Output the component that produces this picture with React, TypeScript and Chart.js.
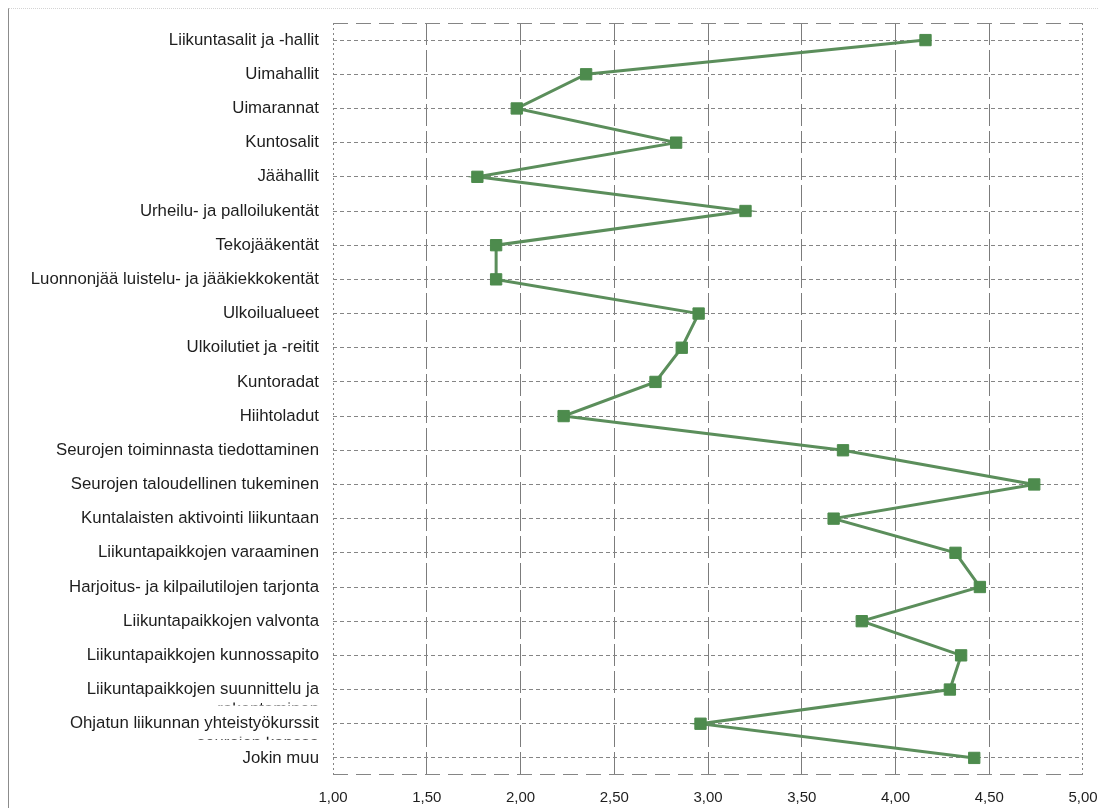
import React, { useEffect, useRef } from "react";
import { Chart, registerables } from "chart.js";

Chart.register(...registerables);

const categories: (string | string[])[] = [
  "Liikuntasalit ja -hallit",
  "Uimahallit",
  "Uimarannat",
  "Kuntosalit",
  "Jäähallit",
  "Urheilu- ja palloilukentät",
  "Tekojääkentät",
  "Luonnonjää luistelu- ja jääkiekkokentät",
  "Ulkoilualueet",
  "Ulkoilutiet ja -reitit",
  "Kuntoradat",
  "Hiihtoladut",
  "Seurojen toiminnasta tiedottaminen",
  "Seurojen taloudellinen tukeminen",
  "Kuntalaisten aktivointi liikuntaan",
  "Liikuntapaikkojen varaaminen",
  "Harjoitus- ja kilpailutilojen tarjonta",
  "Liikuntapaikkojen valvonta",
  "Liikuntapaikkojen kunnossapito",
  ["Liikuntapaikkojen suunnittelu ja", "rakentaminen"],
  ["Ohjatun liikunnan yhteistyökurssit", "seurojen kanssa"],
  "Jokin muu",
];

const values: number[] = [
  4.16, 2.35, 1.98, 2.83, 1.77, 3.2, 1.87, 1.87, 2.95, 2.86, 2.72, 2.23,
  3.72, 4.74, 3.67, 4.32, 4.45, 3.82, 4.35, 4.29, 2.96, 4.42,
];

const xTickValues: number[] = [1, 1.5, 2, 2.5, 3, 3.5, 4, 4.5, 5];
const xTickLabels: string[] = ["1,00", "1,50", "2,00", "2,50", "3,00", "3,50", "4,00", "4,50", "5,00"];

const FONT = '"Liberation Sans", Arial, sans-serif';
const LABEL_SIZE = 16.8;

export default function App() {
  const ref = useRef<HTMLCanvasElement | null>(null);

  useEffect(() => {
    if (!ref.current) return;
    const framePlugin = {
      id: "frame",
      afterDraw(chart: any) {
        const { ctx, chartArea, scales } = chart;
        const { left, right, top, bottom } = chartArea;
        ctx.save();
        ctx.strokeStyle = "#858585";
        ctx.lineWidth = 1;
        ctx.setLineDash([15, 8]);
        ctx.beginPath();
        ctx.moveTo(left, top + 0.5);
        ctx.lineTo(right, top + 0.5);
        ctx.moveTo(left, bottom - 0.5);
        ctx.lineTo(right, bottom - 0.5);
        ctx.stroke();
        ctx.setLineDash([2, 3]);
        ctx.beginPath();
        ctx.moveTo(right - 0.5, top);
        ctx.lineTo(right - 0.5, bottom);
        ctx.moveTo(left + 0.5, top);
        ctx.lineTo(left + 0.5, bottom);
        ctx.stroke();
        ctx.restore();
        categories.forEach((c, i) => {
          if (Array.isArray(c) && c.length > 1) {
            const yy = scales.y.getPixelForTick(i);
            ctx.save();
            ctx.beginPath();
            ctx.rect(0, yy + 13, left, 3);
            ctx.clip();
            ctx.font = LABEL_SIZE + "px " + FONT;
            ctx.fillStyle = "#1e1e1e";
            ctx.textAlign = "right";
            ctx.textBaseline = "middle";
            ctx.fillText(c[1], left - 14, yy + 20);
            ctx.restore();
          }
        });
      },
    };

    const chart = new Chart(ref.current, {
      type: "line",
      data: {
        labels: categories.map((c) => (Array.isArray(c) ? c.join(" ") : c)),
        datasets: [
          {
            data: values,
            borderColor: "#5b8e5b",
            backgroundColor: "#4d8b4d",
            pointBackgroundColor: "#4d8b4d",
            pointBorderColor: "#4d8b4d",
            borderWidth: 3,
            pointStyle: "rect",
            pointRadius: 8,
            pointBorderWidth: 1,
            tension: 0,
            clip: false,
          },
        ],
      },
      options: {
        indexAxis: "y",
        animation: false,
        responsive: false,
        maintainAspectRatio: false,
        layout: { padding: { top: 14, right: 15, bottom: 0, left: 0 } },
        plugins: { legend: { display: false }, tooltip: { enabled: false } },
        scales: {
          x: {
            type: "linear",
            min: 1,
            max: 5,
            afterFit: (s: any) => {
              s.height = 33;
              s.paddingLeft = 0;
              s.paddingRight = 0;
            },
            afterBuildTicks: (s: any) => {
              s.ticks = xTickValues.map((v) => ({ value: v }));
            },
            ticks: {
              padding: 14,
              maxRotation: 0,
              color: "#1e1e1e",
              font: { family: FONT, size: 15 },
              callback: (v: any, i: number) => xTickLabels[i],
            },
            grid: {
              drawTicks: false,
              color: (ctx: any) =>
                ctx.index === 0 || ctx.index === xTickValues.length - 1 ? "rgba(0,0,0,0)" : "#7c7c7c",
              lineWidth: 1,
            },
            border: { display: false, dash: [22, 5] },
          },
          y: {
            type: "category",
            offset: true,
            afterFit: (s: any) => {
              s.width = 324;
              s.paddingTop = 0;
              s.paddingBottom = 0;
            },
            ticks: {
              autoSkip: false,
              padding: 14,
              color: "#1e1e1e",
              font: { family: FONT, size: LABEL_SIZE },
              callback: (v: any, i: number) => {
                const c = categories[i];
                return Array.isArray(c) ? c[0] : c;
              },
            },
            grid: {
              drawTicks: false,
              color: "#858585",
              lineWidth: 1,
            },
            border: { display: false, dash: [4, 3] },
          },
        },
      },
      plugins: [framePlugin],
    } as any);

    return () => chart.destroy();
  }, []);

  return (
    <div
      style={{
        width: 1090,
        height: 800,
        boxSizing: "border-box",
        borderLeft: "1px solid #8c8c8c",
        borderTop: "1px dotted #d4d4d4",
        background: "#fff",
      }}
    >
      <canvas ref={ref} width={1089} height={799} style={{ display: "block" }} />
    </div>
  );
}
